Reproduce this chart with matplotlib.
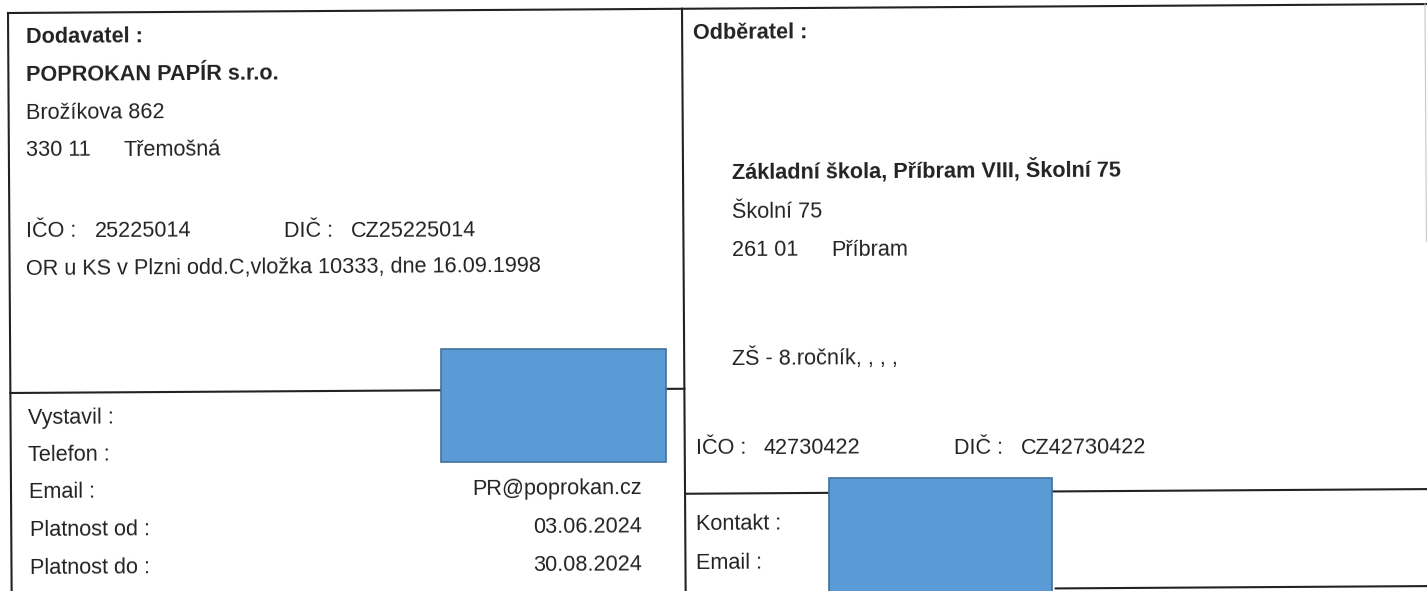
import matplotlib.pyplot as plt
from matplotlib.patches import Rectangle
from matplotlib.transforms import Affine2D

plt.rcParams['font.family'] = ['Liberation Sans', 'DejaVu Sans']

W, H = 1427, 591
SKEW = 0.36  # scan is slightly rotated
INK = '#222222'
FS = 15.6

# supplier block (left, top)
supplier_text = ["Dodavatel :", "POPROKAN PAPÍR s.r.o.", "Brožíkova 862", "330 11", "IČO :",
                 "OR u KS v Plzni odd.C,vložka 10333, dne 16.09.1998"]
supplier_bold = [True, True, False, False, False, False]
supplier_y = [43, 81, 119, 156, 237, 275]
supplier_extra = ["Třemošná", "25225014", "DIČ :", "CZ25225014"]
supplier_extra_x = [124, 95, 284, 351]
supplier_extra_y = [156, 237, 237, 237]

# issuer block (left, bottom)
issuer_labels = ["Vystavil :", "Telefon :", "Email :", "Platnost od :", "Platnost do :"]
issuer_values = ["", "", "PR@poprokan.cz", "03.06.2024", "30.08.2024"]
issuer_y = [424, 461, 498, 536, 574]

# customer block (right)
customer_text = ["Odběratel :", "Základní škola, Příbram VIII, Školní 75", "Školní 75", "261 01",
                 "ZŠ - 8.ročník, , , ,", "IČO :", "Kontakt :", "Email :"]
customer_bold = [True, True, False, False, False, False, False, False]
customer_x = [693, 732, 732, 732, 732, 696, 696, 696]
customer_y = [39, 179, 218, 256, 365, 454, 530, 569]
customer_extra = ["Příbram", "42730422", "DIČ :", "CZ42730422"]
customer_extra_x = [831, 763, 954, 1021]
customer_extra_y = [256, 454, 454, 454]

# frame lines in unrotated page coordinates
frame_lines = [
    ((8, 13), (1440, 13)),
    ((8, 13), (8, 600)),
    ((682, 13), (682, 600)),
    ((8, 393), (682, 393)),
    ((682, 498), (1440, 498)),
    ((1052, 595), (1440, 595)),
]

# redaction boxes (x, y, w, h)
boxes = [(441, 349, 225, 113), (829, 478, 223, 115)]

fig = plt.figure(figsize=(W / 100, H / 100), dpi=100)
ax = fig.add_axes([0, 0, 1, 1])
ax.set_xlim(0, W)
ax.set_ylim(H, 0)
ax.axis('off')

rot = Affine2D().rotate_deg_around(8, 13, -SKEW) + ax.transData
for (x0, y0), (x1, y1) in frame_lines:
    ax.plot([x0, x1], [y0, y1], color=INK, lw=1.5, transform=rot, zorder=1)
ax.plot([1425, 1425], [13, 250], color='#c8c8c8', lw=0.8, transform=rot, zorder=1)


def put(x, y, s, bold=False, ha='left'):
    ax.text(x, y, s, fontsize=FS, color=INK, ha=ha, va='baseline',
            fontweight='bold' if bold else 'normal',
            rotation=SKEW, rotation_mode='anchor', zorder=2)


for s, b, y in zip(supplier_text, supplier_bold, supplier_y):
    put(26, y, s, b)
for s, x, y in zip(supplier_extra, supplier_extra_x, supplier_extra_y):
    put(x, y, s)

for i, (lab, val, y) in enumerate(zip(issuer_labels, issuer_values, issuer_y)):
    put(28 + i * 0.5, y, lab)
    if val:
        put(642, y - 4, val, ha='right')

for s, b, x, y in zip(customer_text, customer_bold, customer_x, customer_y):
    put(x, y, s, b)
for s, x, y in zip(customer_extra, customer_extra_x, customer_extra_y):
    put(x, y, s)

for x, y, w, h in boxes:
    ax.add_patch(Rectangle((x, y), w, h, facecolor='#5B9BD5', edgecolor='#41719C',
                           lw=1.2, zorder=3))

fig.savefig('out.png', dpi=100)
